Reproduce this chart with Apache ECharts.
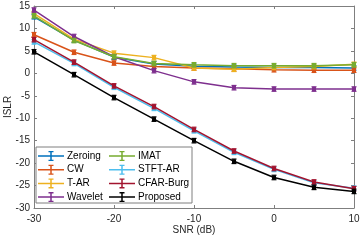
<!DOCTYPE html>
<html><head><meta charset="utf-8">
<script src="https://cdn.jsdelivr.net/npm/echarts@6/dist/echarts.min.js"></script>
<style>html,body{margin:0;padding:0;background:#fff}#c{width:360px;height:240px}</style>
</head><body><div id="c"></div>
<script>
var snr = [-30, -25, -20, -15, -10, -5, 0, 5, 10];
var zeroing = [12.6, 7.4, 3.6, 2.1, 1.6, 1.4, 1.3, 1.3, 1.2];
var cw = [8.6, 4.7, 2.3, 1.5, 1.2, 1.0, 0.8, 0.7, 0.7];
var tar = [13.3, 7.6, 4.5, 3.5, 1.2, 0.9, 1.3, 1.5, 2.0];
var wavelet = [14.1, 8.2, 3.7, 0.6, -1.9, -3.2, -3.5, -3.5, -3.5];
var imat = [12.8, 7.3, 3.7, 2.2, 1.9, 1.7, 1.7, 1.7, 1.9];
var stft = [7.0, 2.2, -3.1, -7.8, -12.8, -17.6, -21.4, -24.4, -25.6];
var cfar = [7.5, 2.5, -2.8, -7.4, -12.5, -17.3, -21.2, -24.2, -25.7];
var proposed = [4.8, -0.3, -5.4, -10.2, -15.0, -19.6, -23.2, -25.4, -26.3];
var errs = [0.5, 0.5, 0.5, 0.5, 0.5, 0.5, 0.5, 0.5, 0.5];
var xTicks = [-30, -20, -10, 0, 10];
var yTicks = [-30, -25, -20, -15, -10, -5, 0, 5, 10, 15];

var names = ['Zeroing','CW','T-AR','Wavelet','IMAT','STFT-AR','CFAR-Burg','Proposed'];
var colors = ['#0072BD','#D95319','#EDB120','#7E2F8E','#77AC30','#4DBEEE','#A2142F','#000000'];
var vals = [zeroing, cw, tar, wavelet, imat, stft, cfar, proposed];
var icon = 'path://M0,4.25h26v1.5h-26z M12.25,0h1.5v10h-1.5z M10.5,0h5v1.3h-5z M10.5,8.7h5v1.3h-5z';

var series = [];
names.forEach(function(n, i){
  var data = snr.map(function(x, k){ return [x, vals[i][k]]; });
  series.push({
    name: n, type: 'line', data: data, color: colors[i],
    symbol: 'rect', symbolSize: 4, showSymbol: true,
    lineStyle: {width: 1.5, color: colors[i]}, itemStyle: {color: colors[i]},
    z: 3 + i, animation: false
  });
  var edata = snr.map(function(x, k){ return [x, vals[i][k] - errs[k], vals[i][k] + errs[k]]; });
  series.push({
    name: n, type: 'custom', data: edata, z: 3 + i, animation: false,
    renderItem: function(params, api){
      var lo = api.coord([api.value(0), api.value(1)]);
      var hi = api.coord([api.value(0), api.value(2)]);
      var w = 2.5;
      var st = {stroke: colors[i], lineWidth: 1.2};
      return {type: 'group', children: [
        {type: 'line', shape: {x1: lo[0], y1: lo[1], x2: hi[0], y2: hi[1]}, style: st},
        {type: 'line', shape: {x1: lo[0]-w, y1: lo[1], x2: lo[0]+w, y2: lo[1]}, style: st},
        {type: 'line', shape: {x1: hi[0]-w, y1: hi[1], x2: hi[0]+w, y2: hi[1]}, style: st}
      ]};
    },
    encode: {x: 0, y: [1, 2]}
  });
});

var axCol = '#262626';
var lineCol = '#7f7f7f';
var font = 'Liberation Sans, Arial, sans-serif';
function legendCfg(left, data){
  return {
    show: true, orient: 'vertical', left: left, top: 151, z: 20,
    itemWidth: 26, itemHeight: 10, itemGap: 3.7, padding: 0,
    icon: icon, data: data,
    textStyle: {fontFamily: font, fontSize: 10, color: '#000', padding: [0,0,0,-2]},
    selectedMode: false
  };
}
function ax(extra){
  var base = {
    axisLine: {show: true, onZero: false, lineStyle: {color: lineCol, width: 1}},
    axisTick: {show: true, inside: true, length: 3, lineStyle: {color: lineCol}},
    splitLine: {show: false}
  };
  for (var k in extra) base[k] = extra[k];
  return base;
}
var option = {
  animation: false,
  backgroundColor: '#fff',
  grid: {left: 34, right: 6, top: 6, bottom: 32, containLabel: false, outerBoundsMode: 'none'},
  legend: [legendCfg(38, names.slice(0,4)), legendCfg(109, names.slice(4))],
  xAxis: [ax({
    type: 'value', min: -30, max: 10, interval: 10, position: 'bottom',
    name: 'SNR (dB)', nameLocation: 'middle', nameGap: 17, nameMoveOverlap: false,
    nameTextStyle: {fontFamily: font, fontSize: 10, color: axCol},
    axisLabel: {fontFamily: font, fontSize: 10, color: axCol, margin: 6, hideOverlap: false,
      formatter: function(v){ return xTicks.indexOf(v) >= 0 ? String(v) : ''; }}
  }), ax({
    type: 'value', min: -30, max: 10, interval: 10, position: 'top',
    axisLabel: {show: false}
  })],
  yAxis: [ax({
    type: 'value', min: -30, max: 15, interval: 5, position: 'left',
    name: 'ISLR', nameLocation: 'middle', nameGap: 21, nameMoveOverlap: false,
    nameTextStyle: {fontFamily: font, fontSize: 10, color: axCol},
    axisLabel: {fontFamily: font, fontSize: 10, color: axCol, margin: 4, hideOverlap: false,
      formatter: function(v){ return yTicks.indexOf(v) >= 0 ? String(v) : ''; }}
  }), ax({
    type: 'value', min: -30, max: 15, interval: 5, position: 'right',
    axisLabel: {show: false}
  })],
  graphic: [{
    type: 'rect', x: 36, y: 147, z: 15, zlevel: 0,
    shape: {x: 0, y: 0, width: 156, height: 56},
    style: {fill: '#fff', stroke: '#7f7f7f', lineWidth: 1}
  }],
  series: series
};
var chart = echarts.init(document.getElementById('c'), null, {renderer: 'canvas'});
chart.setOption(option);
</script>
</body></html>
